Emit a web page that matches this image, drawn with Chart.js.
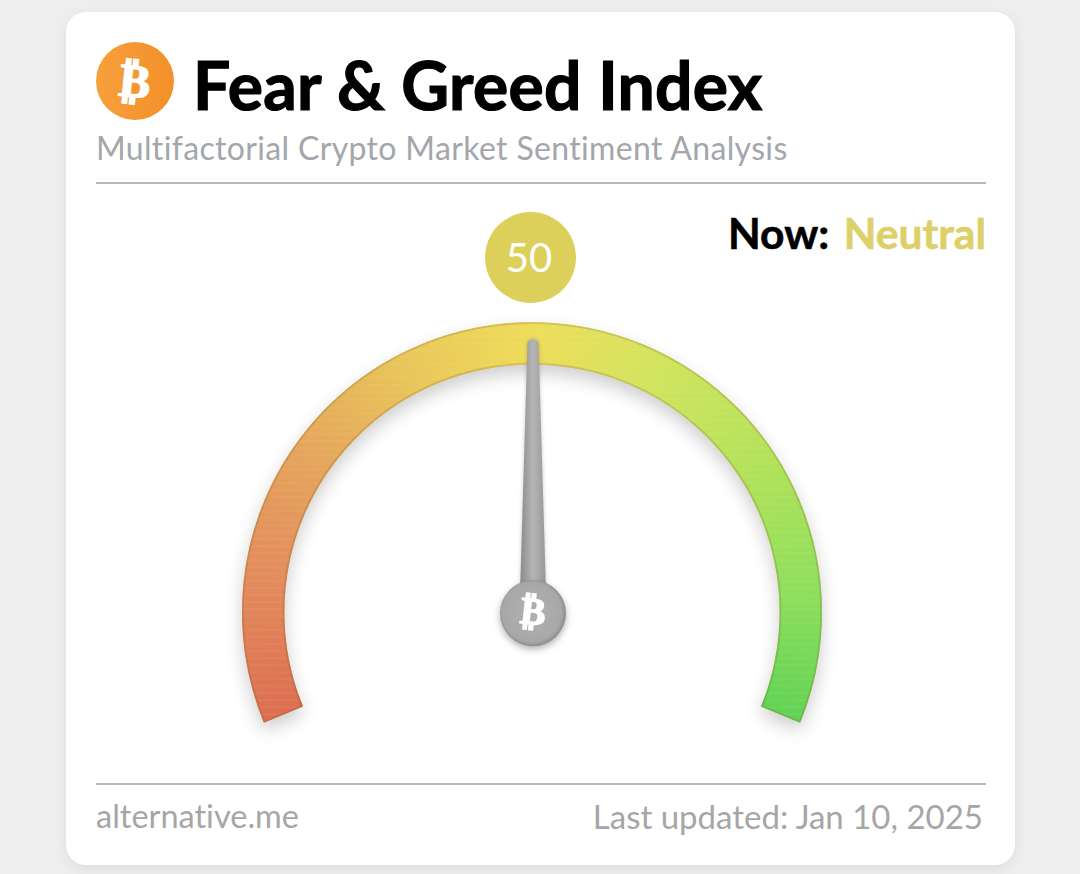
<!DOCTYPE html>
<html lang="en">
<head>
<meta charset="UTF-8">
<title>Fear &amp; Greed Index</title>
<script src="https://cdn.jsdelivr.net/npm/chart.js"></script>
<style>
    html, body { margin: 0; width: 1080px; height: 874px; overflow: hidden; background: #eeeeee; font-family: Lato, sans-serif; }
    #card { position: absolute; left: 66px; top: 12px; width: 949px; height: 853px; background: #fff; border-radius: 20px; box-shadow: 0 4px 14px rgba(0,0,0,0.07); }
    #gauge { position: absolute; left: 0; top: 0; }
    .txt { position: absolute; white-space: nowrap; line-height: 1; font-variant-ligatures: none; }
    .rule { position: absolute; left: 96px; width: 890px; height: 2px; background: #b8b8b8; }
    #logo { position: absolute; left: 96px; top: 42px; width: 78px; height: 78px; border-radius: 50%; background: linear-gradient(90deg, #f7a03c, #f39029); color: #fff; text-align: center; }
    #logo span { display: block; font: bold 47px/78px "DejaVu Sans"; -webkit-text-stroke: 1.5px #fff; transform: rotate(6deg); }
    #title { left: 193px; top: 52px; font-size: 66px; font-weight: 700; color: #000; letter-spacing: 0.3px; -webkit-text-stroke: 1.2px #000; }
    #sub { left: 96px; top: 132px; font-size: 32px; color: #a3a6aa; letter-spacing: 0.35px; }
    #nowL { left: 728px; top: 212px; font-size: 42.5px; font-weight: 700; color: #000; -webkit-text-stroke: 0.6px #000; }
    #nowV { right: 94px; top: 212px; font-size: 42.5px; font-weight: 700; color: #ddd06a; -webkit-text-stroke: 0.6px #ddd06a; }
    #badge { position: absolute; left: 484.5px; top: 212px; width: 91px; height: 91px; border-radius: 50%; background: #ddd05a; color: #fff; font-size: 40px; font-weight: 400; line-height: 91px; text-align: center; text-indent: -2px; }
    #site { left: 96px; top: 800px; font-size: 32.5px; color: #a6a6a6; }
    #updated { right: 97px; top: 800px; font-size: 33px; color: #a6a6a6; }
</style>
</head>
<body>
<div id="card"></div>
<div id="logo"><span>₿</span></div>
<div class="txt" id="title">Fear &amp; Greed Index</div>
<div class="txt" id="sub">Multifactorial Crypto Market Sentiment Analysis</div>
<div class="rule" style="top:182px"></div>
<div class="txt" id="nowL">Now:</div>
<div class="txt" id="nowV"></div>
<div id="badge"></div>
<div class="rule" style="top:783px"></div>
<div class="txt" id="site">alternative.me</div>
<div class="txt" id="updated">Last updated: Jan 10, 2025</div>
<canvas id="gauge" width="1080" height="874"></canvas>

<script>
const arcLabels = ['Fear', 'Greed'];
const arcValues = [50, 50];
const gaugeValue = 50;
const gaugeMax = 100;
const sentiment = 'Neutral';

const ringStops = [
    [0, '#dc6e50'], [0.12, '#e3895c'], [0.25, '#e5a45c'], [0.38, '#e9c65a'],
    [0.5, '#efdd5a'], [0.62, '#d2e45e'], [0.75, '#b4e25a'], [0.88, '#8fdf5c'], [1, '#62d254']
];
const startDeg = -112.4;
const sweepDeg = 224.8;

document.getElementById('nowV').textContent = sentiment;
document.getElementById('badge').textContent = gaugeValue;

function rad(d) { return d * Math.PI / 180; }

function ringFill(c) {
    const area = c.chart.chartArea;
    if (!area) return '#efdd5a';
    const ctrl = c.chart.getDatasetMeta(0).controller;
    const x = (area.left + area.right) / 2 + (ctrl.offsetX || 0);
    const y = (area.top + area.bottom) / 2 + (ctrl.offsetY || 0);
    const g = c.chart.ctx.createConicGradient(rad(startDeg - 90), x, y);
    ringStops.forEach(s => g.addColorStop(s[0] * sweepDeg / 360, s[1]));
    g.addColorStop(sweepDeg / 360 + 0.001, '#62d254');
    g.addColorStop(1, '#dc6e50');
    return g;
}

// path of the whole ring, taken from the arc elements
function ringPath(ctx, first, last) {
    ctx.beginPath();
    ctx.arc(first.x, first.y, first.outerRadius, first.startAngle, last.endAngle);
    ctx.arc(first.x, first.y, first.innerRadius, last.endAngle, first.startAngle, true);
    ctx.closePath();
}

const gaugeDecor = {
    id: 'gaugeDecor',
    beforeDatasetsDraw(chart) {
        const arcs = chart.getDatasetMeta(0).data;
        const ctx = chart.ctx;
        ctx.save();
        ctx.shadowColor = 'rgba(0,0,0,0.2)';
        ctx.shadowBlur = 18;
        ctx.shadowOffsetY = 8;
        ctx.fillStyle = '#e0c060';
        ringPath(ctx, arcs[0], arcs[arcs.length - 1]);
        ctx.fill();
        ctx.restore();
    },
    afterDatasetsDraw(chart) {
        const arcs = chart.getDatasetMeta(0).data;
        const first = arcs[0], last = arcs[arcs.length - 1];
        const ctx = chart.ctx;
        const x = first.x, y = first.y;

        // brushed stripes and soft darker rim, kept inside the ring
        ctx.save();
        ringPath(ctx, first, last);
        ctx.clip();
        ctx.strokeStyle = 'rgba(255,255,255,0.05)';
        ctx.lineWidth = 2;
        for (let sy = y - first.outerRadius; sy < y + first.outerRadius; sy += 7) {
            ctx.beginPath();
            ctx.moveTo(x - first.outerRadius, sy);
            ctx.lineTo(x + first.outerRadius, sy);
            ctx.stroke();
        }
        ctx.strokeStyle = 'rgba(100,70,30,0.18)';
        ctx.lineWidth = 3.5;
        ringPath(ctx, first, last);
        ctx.stroke();
        ctx.restore();

        // needle, angle comes from the value on the arc's own range
        const ang = first.startAngle + (last.endAngle - first.startAngle) * gaugeValue / gaugeMax;
        ctx.save();
        ctx.translate(x + 1, y + 1);
        ctx.rotate(ang + Math.PI / 2);
        const g = ctx.createLinearGradient(-13, 0, 13, 0);
        g.addColorStop(0, '#8a8a8a');
        g.addColorStop(0.5, '#b6b6b6');
        g.addColorStop(1, '#969696');
        ctx.fillStyle = g;
        ctx.shadowColor = 'rgba(0,0,0,0.2)';
        ctx.shadowBlur = 4;
        ctx.beginPath();
        ctx.moveTo(-13, -20);
        ctx.lineTo(-5.5, -271);
        ctx.quadraticCurveTo(0, -278, 5.5, -271);
        ctx.lineTo(13, -20);
        ctx.closePath();
        ctx.fill();
        ctx.restore();

        // hub
        ctx.save();
        ctx.shadowColor = 'rgba(0,0,0,0.3)';
        ctx.shadowBlur = 7;
        ctx.shadowOffsetY = 3;
        const h = ctx.createRadialGradient(x, y, 10, x, y, 33);
        h.addColorStop(0, '#aeaeae');
        h.addColorStop(0.85, '#a8a8a8');
        h.addColorStop(1, '#929292');
        ctx.fillStyle = h;
        ctx.beginPath();
        ctx.arc(x + 1, y + 1, 33, 0, Math.PI * 2);
        ctx.fill();
        ctx.restore();

        ctx.save();
        ctx.translate(x + 1, y + 1);
        ctx.rotate(rad(6));
        ctx.fillStyle = '#fff';
        ctx.strokeStyle = '#fff';
        ctx.lineWidth = 1.4;
        ctx.font = 'bold 38px "DejaVu Sans"';
        ctx.textAlign = 'center';
        ctx.textBaseline = 'middle';
        ctx.fillText('₿', 0, 1);
        ctx.strokeText('₿', 0, 1);
        ctx.restore();
    }
};

new Chart(document.getElementById('gauge'), {
    type: 'doughnut',
    data: {
        labels: arcLabels,
        datasets: [{ data: arcValues, backgroundColor: ringFill, borderWidth: 0 }]
    },
    options: {
        responsive: false,
        animation: false,
        rotation: startDeg,
        circumference: sweepDeg,
        radius: 290,
        cutout: '85.4%',
        layout: { padding: { top: 171, right: 16 } },
        plugins: { legend: { display: false }, tooltip: { enabled: false } }
    },
    plugins: [gaugeDecor]
});
</script>
</body>
</html>
